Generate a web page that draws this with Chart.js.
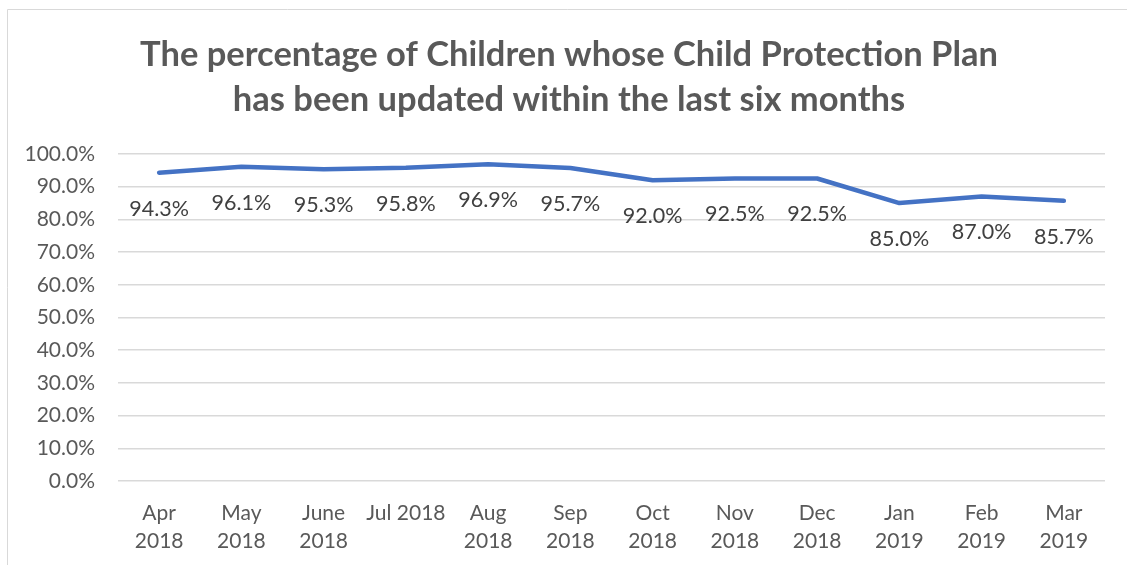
<!DOCTYPE html>
<html>
<head>
<meta charset="utf-8">
<script src="https://cdn.jsdelivr.net/npm/chart.js@4/dist/chart.umd.min.js"></script>
<style>
  html, body { margin: 0; padding: 0; background: #fff; }
  #wrap { width: 1127px; height: 565px; position: relative; }
</style>
</head>
<body>
<div id="wrap"><canvas id="lineChart" width="1127" height="565"></canvas></div>
<script>
// month labels (two lines where the picture wraps them)
const months = [
  ["Apr", "2018"], ["May", "2018"], ["June", "2018"], "Jul 2018",
  ["Aug", "2018"], ["Sep", "2018"], ["Oct", "2018"], ["Nov", "2018"],
  ["Dec", "2018"], ["Jan", "2019"], ["Feb", "2019"], ["Mar", "2019"]
];
const percentUpdated = [94.3, 96.1, 95.3, 95.8, 96.9, 95.7, 92.0, 92.5, 92.5, 85.0, 87.0, 85.7];
const titleLines = [
  "The percentage of Children whose Child Protection Plan",
  "has been updated within the last six months"
];

const grey = "#595959";

// light frame + title, drawn by hand so it sits where excel put it
const framePlugin = {
  id: "frame",
  beforeDraw(chart) {
    const c = chart.ctx;
    c.save();
    c.strokeStyle = "#d9d9d9";
    c.lineWidth = 1;
    c.beginPath();
    c.moveTo(7.5, 565);
    c.lineTo(7.5, 9.5);
    c.lineTo(1127, 9.5);
    c.stroke();

    c.fillStyle = grey;
    c.font = "bold 34.5px Lato";
    c.textAlign = "center";
    c.textBaseline = "middle";
    c.fillText(titleLines[0], 569, 55);
    c.fillText(titleLines[1], 569, 100);
    c.restore();
  }
};

// value labels under each point
const labelPlugin = {
  id: "valueLabels",
  afterDatasetsDraw(chart) {
    const c = chart.ctx;
    const meta = chart.getDatasetMeta(0);
    c.save();
    c.font = "21.5px Lato";
    c.fillStyle = "#404040";
    c.textAlign = "center";
    c.textBaseline = "middle";
    meta.data.forEach((pt, i) => {
      c.fillText(percentUpdated[i].toFixed(1) + "%", pt.x, pt.y + 36);
    });
    c.restore();
  }
};

const chart = new Chart(document.getElementById("lineChart"), {
  type: "line",
  data: {
    labels: months,
    datasets: [{
      data: percentUpdated,
      borderColor: "#4472C4",
      borderWidth: 4.5,
      borderCapStyle: "round",
      borderJoinStyle: "round",
      pointRadius: 0,
      tension: 0,
      fill: false
    }]
  },
  options: {
    responsive: false,
    animation: false,
    layout: { padding: { left: 8, right: 22, top: 154, bottom: 0 } },
    plugins: {
      legend: { display: false },
      tooltip: { enabled: false },
      title: { display: false }
    },
    scales: {
      x: {
        offset: true,
        grid: { display: false, drawTicks: false },
        border: { display: false },
        ticks: {
          color: grey,
          font: { family: "Lato", size: 21, lineHeight: 1.35 },
          maxRotation: 0,
          autoSkip: false,
          padding: 18
        },
        afterFit(s) { s.height = 84; }
      },
      y: {
        min: 0,
        max: 100,
        grid: { color: "#d9d9d9", lineWidth: 1.5, drawTicks: false },
        border: { display: false },
        ticks: {
          stepSize: 10,
          color: grey,
          font: { family: "Lato", size: 21 },
          padding: 23,
          callback: v => v.toFixed(1) + "%"
        },
        afterFit(s) { s.width = 110; }
      }
    }
  },
  plugins: [framePlugin, labelPlugin]
});
</script>
</body>
</html>
